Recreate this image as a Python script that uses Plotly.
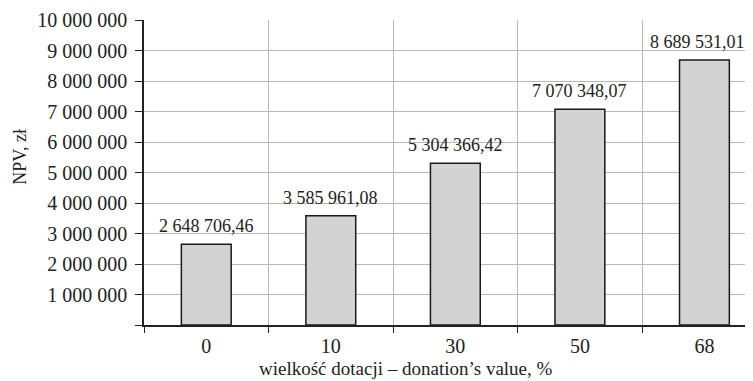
import plotly.graph_objects as go

categories = ["0", "10", "30", "50", "68"]
npv_values = [2648706.46, 3585961.08, 5304366.42, 7070348.07, 8689531.01]
y_tick_values = [0, 1000000, 2000000, 3000000, 4000000, 5000000,
                 6000000, 7000000, 8000000, 9000000, 10000000]
y_tick_labels = ["", "1 000 000", "2 000 000", "3 000 000", "4 000 000",
                 "5 000 000", "6 000 000", "7 000 000", "8 000 000",
                 "9 000 000", "10 000 000"]
x_title = "wielkość dotacji – donation’s value, %"
y_title = "NPV, zł"

FONT = "Liberation Serif, Times New Roman, serif"
TXT = "#222"


def fmt(v):
    return f"{v:,.2f}".replace(",", " ").replace(".", ",")


fig = go.Figure()
fig.add_trace(go.Bar(
    x=categories, y=npv_values, width=0.4,
    marker=dict(color="#d3d3d3", line=dict(color="#1a1a1a", width=1.5)),
    hoverinfo="skip",
))

for i, v in enumerate(npv_values):
    # the last label is nudged left so it stays inside the visible area
    shift = -7 if i == len(npv_values) - 1 else 0
    fig.add_annotation(x=i, y=v, text=fmt(v), showarrow=False,
                       xref="x", yref="y", xshift=shift,
                       yanchor="bottom", yshift=6,
                       font=dict(family=FONT, size=18, color=TXT))

fig.add_annotation(xref="paper", yref="paper", x=-0.204, y=0.551,
                   text=y_title, textangle=-90, showarrow=False,
                   xanchor="center", yanchor="middle",
                   font=dict(family=FONT, size=18, color=TXT))
fig.add_annotation(xref="paper", yref="paper", x=0.430, y=-0.141,
                   text=x_title, showarrow=False,
                   xanchor="center", yanchor="middle",
                   font=dict(family=FONT, size=19, color=TXT))

# page body has an 8px margin, so the figure is sized/offset to compensate
fig.update_layout(
    width=745, height=373,
    margin=dict(l=136, r=0, t=12, b=56, autoexpand=False),
    paper_bgcolor="white", plot_bgcolor="white",
    showlegend=False,
    font=dict(family=FONT, size=20, color=TXT),
)
fig.update_xaxes(
    type="category", range=[-0.5, 4.39],
    tickson="boundaries", ticks="outside", ticklen=6, tickcolor=TXT,
    showgrid=True, gridcolor="#b8b8b8", gridwidth=1,
    showline=True, linecolor=TXT, linewidth=1.5,
    ticklabelstandoff=2,
    tickfont=dict(family=FONT, size=20, color=TXT),
)
fig.update_yaxes(
    range=[0, 10000000], tickvals=y_tick_values, ticktext=y_tick_labels,
    ticks="outside", ticklen=7, tickcolor=TXT,
    showgrid=True, gridcolor="#b8b8b8", gridwidth=1,
    showline=True, linecolor=TXT, linewidth=1.5, zeroline=False,
    ticklabelstandoff=4,
    tickfont=dict(family=FONT, size=20, color=TXT),
)

fig.write_html("out.html")
